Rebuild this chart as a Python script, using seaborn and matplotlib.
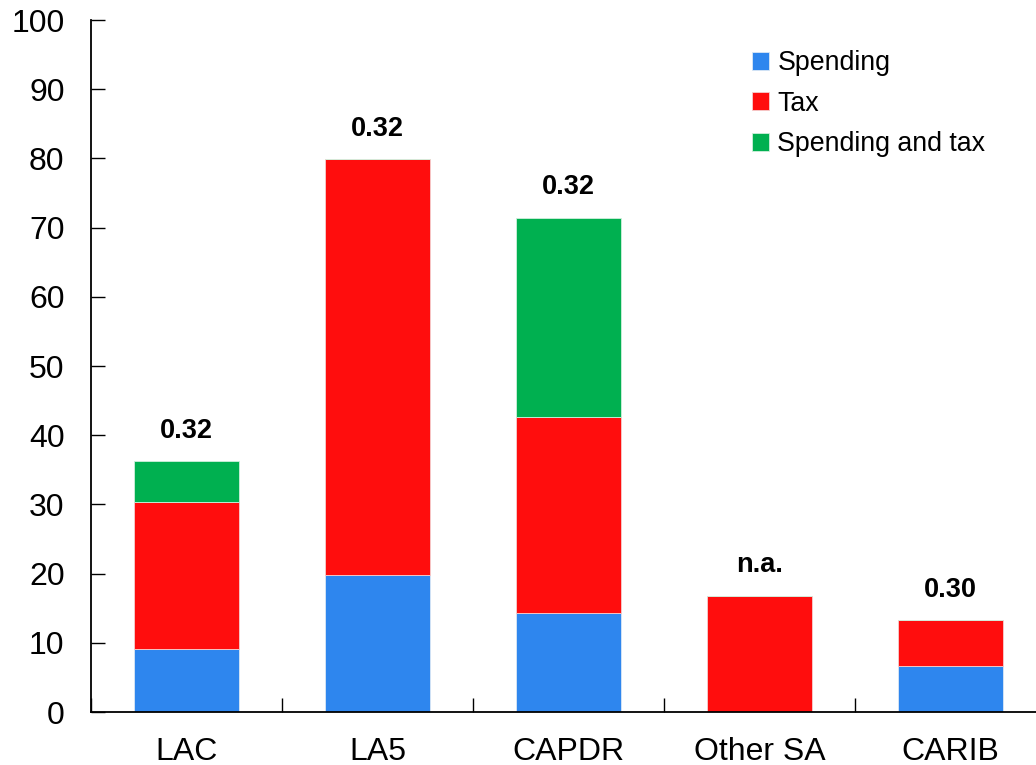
import numpy as np
import pandas as pd
import matplotlib
matplotlib.use("Agg")
import matplotlib.pyplot as plt
import seaborn as sns

regions = ["LAC", "LA5", "CAPDR", "Other SA", "CARIB"]
spending = [9.1, 19.8, 14.3, 0.0, 6.6]
tax = [21.2, 60.1, 28.3, 16.8, 6.7]
spending_and_tax = [5.9, 0.0, 28.8, 0.0, 0.0]
top_labels = ["0.32", "0.32", "0.32", "n.a.", "0.30"]

BLUE = "#2E86EE"
RED = "#FF0D0D"
GREEN = "#00B050"

sns.set_theme(style="ticks")
plt.rcParams["font.family"] = ["Liberation Sans", "DejaVu Sans"]
plt.rcParams["text.color"] = "black"
plt.rcParams["xtick.color"] = "black"
plt.rcParams["ytick.color"] = "black"

df = pd.DataFrame({"region": regions, "spending": spending, "tax": tax, "both": spending_and_tax})
df["base_tax"] = df["spending"]
df["base_both"] = df["spending"] + df["tax"]
df["total"] = df["base_both"] + df["both"]

fig = plt.figure(figsize=(10.36, 7.65), dpi=100)
ax = fig.add_axes([91 / 1036, 53 / 765, 955 / 1036, 692 / 765])

w = 0.545
sns.barplot(data=df, x="region", y="spending", color=BLUE, width=w, ax=ax,
            edgecolor="#dbe8f5", linewidth=0.6, label="Spending", saturation=1)
sns.barplot(data=df, x="region", y="tax", bottom=df["base_tax"], color=RED, width=w, ax=ax,
            edgecolor="#f5d0d0", linewidth=0.6, label="Tax", saturation=1)
sns.barplot(data=df, x="region", y="both", bottom=df["base_both"], color=GREEN, width=w, ax=ax,
            edgecolor="#d0f0dc", linewidth=0.6, label="Spending and tax", saturation=1)

# value labels above each stack
for i, (t, lab) in enumerate(zip(df["total"], top_labels)):
    ax.text(i, t + 4.4, lab, ha="center", va="center", fontsize=19.5, fontweight="bold", color="black")

ax.set_ylim(0, 100)
ax.set_xlim(-0.5, 4.5)
ax.set_yticks(np.arange(0, 101, 10))
ax.set_xticks(np.arange(-0.5, 4.6, 1), minor=True)
ax.tick_params(axis="y", direction="in", length=10, width=1, labelsize=23, pad=19)
ax.tick_params(axis="x", which="major", length=0, labelsize=23, pad=18)
ax.tick_params(axis="x", which="minor", direction="in", length=10, width=1)
ax.set_xlabel("")
ax.set_ylabel("")
for s in ["top", "right"]:
    ax.spines[s].set_visible(False)
for s in ["left", "bottom"]:
    ax.spines[s].set_linewidth(1.3)
    ax.spines[s].set_color("black")

ax.legend(loc="upper left", bbox_to_anchor=(752 / 1036, 1 - 50 / 765), bbox_transform=fig.transFigure,
          frameon=False, fontsize=19.3, handlelength=0.65, handleheight=0.65, handletextpad=0.3,
          labelspacing=0.55, borderpad=0, borderaxespad=0)

fig.savefig("out.png", dpi=100)
